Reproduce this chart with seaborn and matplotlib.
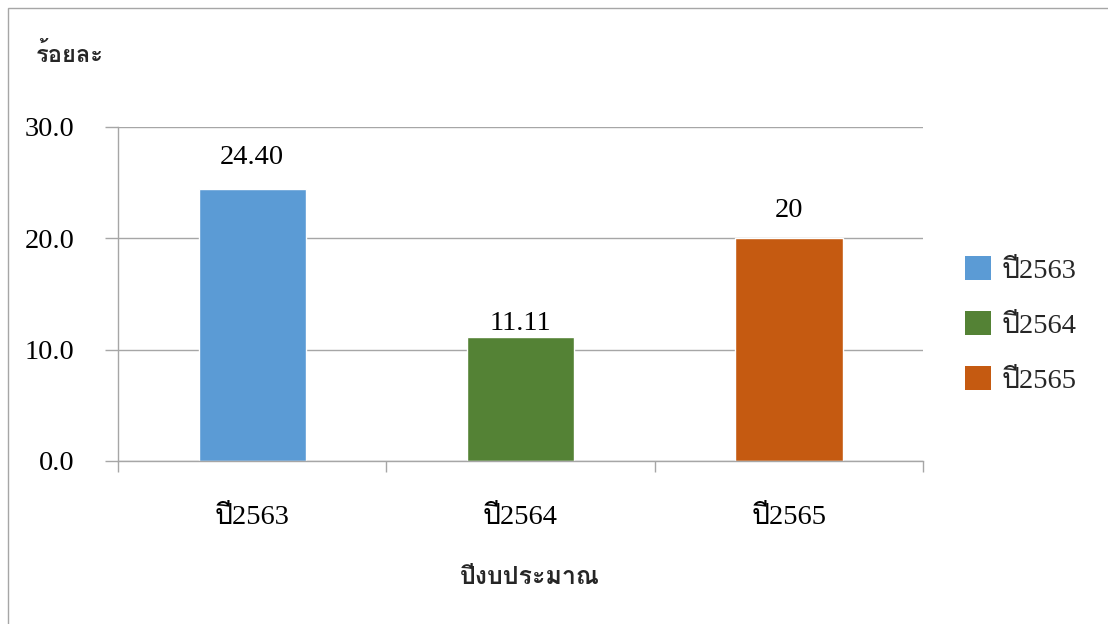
import matplotlib
matplotlib.use("Agg")
import matplotlib.pyplot as plt
import seaborn as sns
import pandas as pd
from matplotlib import font_manager, ft2font
from matplotlib.patches import Rectangle
from matplotlib.ticker import FixedLocator

# ---- data ----
categories = ["ปี2563", "ปี2564", "ปี2565"]
values = [24.40, 11.11, 20.0]
value_labels = ["24.40", "11.11", "20"]
yticks = [0, 10, 20, 30]
ytick_labels = ["0.0", "10.0", "20.0", "30.0"]
colors = ["#5B9BD5", "#548235", "#C55A11"]
y_title = "ร้อยละ"
x_title = "ปีงบประมาณ"

sns.set_theme(style="white")

def has_thai(path):
    try:
        f = ft2font.FT2Font(path)
        return f.get_char_index(0x0E23) != 0
    except Exception:
        return False

thai_fonts = []
for fe in font_manager.fontManager.ttflist:
    if fe.name not in thai_fonts and has_thai(fe.fname):
        thai_fonts.append(fe.name)

families = ["Liberation Serif"] + thai_fonts[:2] + ["DejaVu Serif", "DejaVu Sans"]
plt.rcParams["font.family"] = families

FS = 20.5

df = pd.DataFrame({"year": categories, "value": values})

fig = plt.figure(figsize=(11.08, 6.24), dpi=100)
ax = fig.add_axes([118/1108, 1-461/624, (923-118)/1108, (461-127)/624])

sns.barplot(data=df, x="year", y="value", hue="year", palette=colors,
            width=0.4, saturation=1, ax=ax, legend=False, order=categories,
            hue_order=categories)

ax.set_ylim(0, 30)
ax.set_xlim(-0.5, 2.5)
ax.set_yticks(yticks)
ax.set_yticklabels(ytick_labels, fontsize=FS, color="black")
ax.set_xticks(range(len(categories)))
ax.set_xticklabels(categories, fontsize=FS, color="black")
ax.xaxis.set_minor_locator(FixedLocator([-0.5, 0.5, 1.5, 2.5]))
ax.tick_params(axis="x", which="major", length=0, pad=31.5)
ax.tick_params(axis="x", which="minor", length=8, width=1, color="#A6A6A6", direction="out", bottom=True)
ax.tick_params(axis="y", which="major", length=9.5, width=1, color="#A6A6A6", direction="out", pad=22, left=True)
ax.set_xlabel("")
ax.set_ylabel("")

ax.yaxis.grid(True, color="#A6A6A6", linewidth=1)
ax.set_axisbelow(True)
for s in ["top", "right"]:
    ax.spines[s].set_visible(False)
for s in ["left", "bottom"]:
    ax.spines[s].set_color("#A6A6A6")
    ax.spines[s].set_linewidth(1)

paddings = [14, 1, 11]
for cont, lab, pad in zip(ax.containers, value_labels, paddings):
    ax.bar_label(cont, labels=[lab], padding=pad, fontsize=FS, color="black")

handles = [Rectangle((0, 0), 1, 1, facecolor=c, edgecolor="none") for c in colors]
fig.legend(handles, categories, loc="center left",
           bbox_to_anchor=(965/1108, 1-325/624), frameon=False,
           fontsize=FS, handlelength=0.92, handleheight=0.92,
           handletextpad=0.35, labelspacing=0.95, borderpad=0, borderaxespad=0)

fig.text(36/1108, 1-55/624, y_title, fontsize=17, fontweight="bold", va="center", ha="left")
fig.text(530/1108, 1-578/624, x_title, fontsize=18, fontweight="bold", va="center", ha="center")

fig.add_artist(Rectangle((8/1108, -0.1), 1.2, 1.1 - 8/624, transform=fig.transFigure,
                         fill=False, edgecolor="#A6A6A6", linewidth=1))

fig.savefig("out.png", dpi=100)
